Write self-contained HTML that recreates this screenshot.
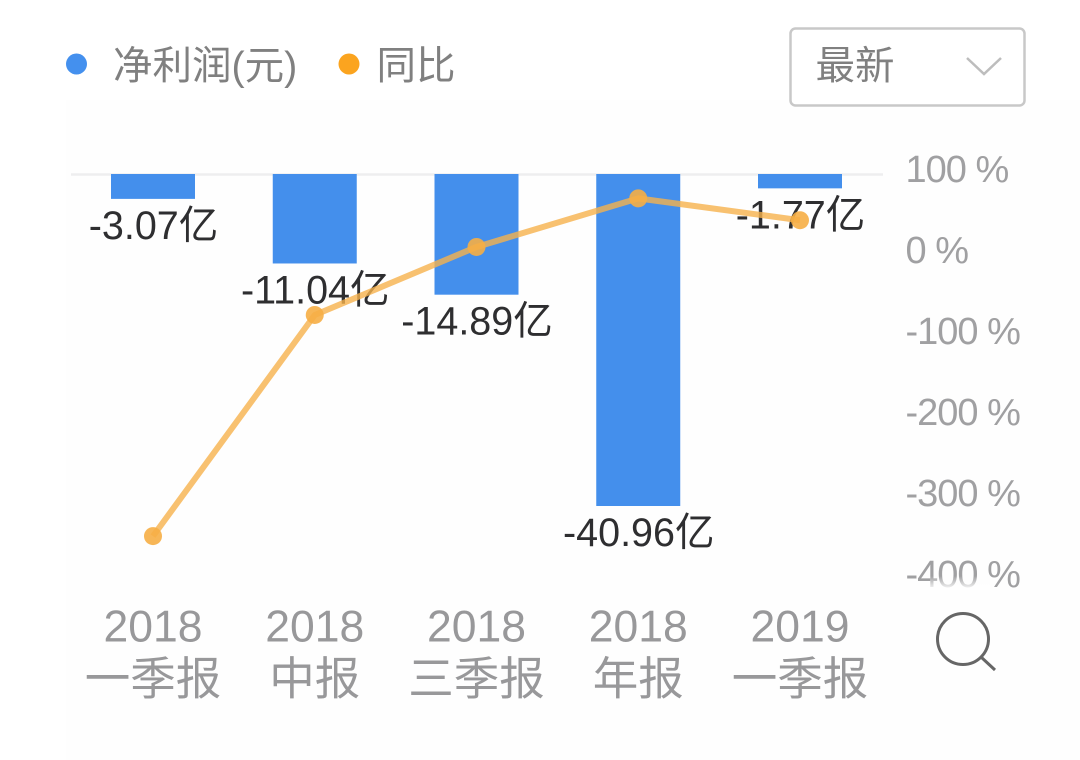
<!DOCTYPE html>
<html lang="zh">
<head>
<meta charset="utf-8">
<title>净利润与同比</title>
<style>
html,body{margin:0;padding:0;background:#fff;width:1080px;height:760px;overflow:hidden}
svg{display:block}
text{font-family:"Liberation Sans","Noto Sans CJK SC",sans-serif}
</style>
</head>
<body>
<svg id="chart" width="1080" height="760" viewBox="0 0 1080 760" xmlns="http://www.w3.org/2000/svg">
  <defs>
    <linearGradient id="fade" x1="0" y1="0" x2="0" y2="1">
      <stop offset="0" stop-color="#fff" stop-opacity="0"/>
      <stop offset="1" stop-color="#fff" stop-opacity="1"/>
    </linearGradient>
  </defs>
  <rect x="66" y="100" width="1014" height="660" fill="#fefefe"/>
  <g>
    <g>
      <circle cx="76.5" cy="64" r="10.5" fill="#4490ee"/>
      <text x="113" y="79.5" font-size="39.5" fill="#808080">净利润(元)</text>
    </g>
    <g>
      <circle cx="349" cy="64" r="10.5" fill="#fba41f"/>
      <text x="376.5" y="79.5" font-size="39.5" fill="#808080">同比</text>
    </g>
  </g>
  <g>
    <rect x="790.5" y="28.5" width="234" height="77" rx="5" fill="#fff" stroke="#c8c8c8" stroke-width="2.5"/>
    <text x="815.5" y="79.5" font-size="39.5" fill="#808080">最新</text>
    <path d="M967 58 L984 74 L1001 58" fill="none" stroke="#bdbdbd" stroke-width="2.5"/>
  </g>
  <line x1="71" y1="174.5" x2="883" y2="174.5" stroke="#eeeeef" stroke-width="2.5"/>
  <g id="bars"></g>
  <g id="valueLabels"></g>
  <g id="yTicks"></g>
  <g id="xTicks"></g>
  <g id="lineLayer"></g>
  <rect x="930" y="576" width="60" height="14" fill="url(#fade)"/>
  <g>
    <circle cx="963" cy="639" r="25.5" fill="none" stroke="#666" stroke-width="3"/>
    <line x1="981" y1="657" x2="995" y2="670" stroke="#666" stroke-width="3"/>
  </g>
</svg>
<script>
var years = ["2018", "2018", "2018", "2018", "2019"];
var periods = ["一季报", "中报", "三季报", "年报", "一季报"];
var netProfit = [-3.07, -11.04, -14.89, -40.96, -1.77];
var yoyPercent = [-352, -79, 5, 65, 38];
var percentTicks = [100, 0, -100, -200, -300, -400];

var NS = "http://www.w3.org/2000/svg";
function make(tag, attrs, parent, txt) {
  var el = document.createElementNS(NS, tag);
  for (var k in attrs) el.setAttribute(k, attrs[k]);
  if (txt !== undefined) el.textContent = txt;
  parent.appendChild(el);
  return el;
}
function xPos(i) { return 153 + i * 161.75; }
function yProfit(v) { return 174 - v * (332 / 40.96); }
function yPercent(v) { return 251 - v * 0.81; }

var barsG = document.getElementById("bars");
var labelsG = document.getElementById("valueLabels");
var yG = document.getElementById("yTicks");
var xG = document.getElementById("xTicks");
var lineG = document.getElementById("lineLayer");

netProfit.forEach(function (v, i) {
  var bottom = yProfit(v);
  var bar = make("rect", {x: xPos(i) - 42, y: 174, width: 84, height: bottom - 174, fill: "#448fec"}, barsG);
  
  
  var label = make("text", {x: xPos(i) + 0.5, y: bottom + 40, "font-size": 39.5, "text-anchor": "middle", fill: "#2e2e30"}, labelsG, v.toFixed(2) + "亿");
  
  
});

percentTicks.forEach(function (t) {
  var tick = make("text", {x: 905.5, y: yPercent(t) + 12, "font-size": 38, "letter-spacing": "-1", fill: "#a0a0a2"}, yG, t + " %");
  
  
});

years.forEach(function (y, i) {
  var yearLabel = make("text", {x: xPos(i), y: 641.5, "font-size": 44.5, "text-anchor": "middle", fill: "#98989a"}, xG, y);
  
  
  var periodLabel = make("text", {x: xPos(i), y: 694.5, "font-size": 45.5, "text-anchor": "middle", fill: "#98989a"}, xG, periods[i]);
  
  
});

var linePoints = yoyPercent.map(function (v, i) { return xPos(i) + "," + yPercent(v); }).join(" ");
var yoyLine = make("polyline", {points: linePoints, fill: "none", stroke: "#f6b24c", "stroke-opacity": 0.8, "stroke-width": 6, "stroke-linejoin": "round"}, lineG);


yoyPercent.forEach(function (v, i) {
  var dot = make("circle", {cx: xPos(i), cy: yPercent(v), r: 9, fill: "#f6ae45", "fill-opacity": 0.9}, lineG);
  
  
});
</script>
</body>
</html>
